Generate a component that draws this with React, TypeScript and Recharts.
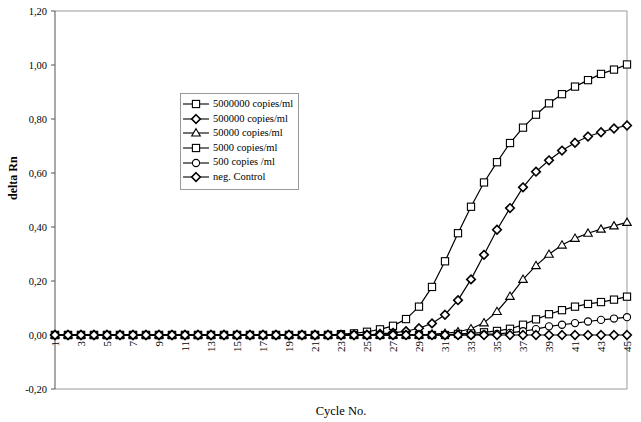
import React from "react";
import { LineChart, Line, XAxis, YAxis, ReferenceLine, Legend } from "recharts";

// Cycle numbers (x categories)
const cycles = [
  1, 2, 3, 4, 5, 6, 7, 8, 9, 10, 11, 12, 13, 14, 15, 16, 17, 18, 19, 20, 21, 22, 23,
  24, 25, 26, 27, 28, 29, 30, 31, 32, 33, 34, 35, 36, 37, 38, 39, 40, 41, 42, 43, 44, 45,
];

// delta Rn values, one per cycle
const s5000000 = [
  0, 0, 0, 0, 0, 0, 0, 0, 0, 0, 0, 0, 0, 0, 0, 0, 0, 0, 0, 0, 0, 0, 0.003, 0.006, 0.012,
  0.021, 0.034, 0.059, 0.105, 0.178, 0.273, 0.377, 0.475, 0.565, 0.64, 0.711, 0.768, 0.816,
  0.858, 0.892, 0.92, 0.944, 0.967, 0.983, 1.002,
];
const s500000 = [
  0, 0, 0, 0, 0, 0, 0, 0, 0, 0, 0, 0, 0, 0, 0, 0, 0, 0, 0, 0, 0, 0, 0, 0, 0, 0.004, 0.008,
  0.014, 0.025, 0.043, 0.075, 0.129, 0.206, 0.297, 0.39, 0.47, 0.547, 0.605, 0.647, 0.683,
  0.712, 0.735, 0.751, 0.765, 0.776,
];
const s50000 = [
  0, 0, 0, 0, 0, 0, 0, 0, 0, 0, 0, 0, 0, 0, 0, 0, 0, 0, 0, 0, 0, 0, 0, 0, 0, 0, 0, 0, 0,
  0.003, 0.006, 0.012, 0.023, 0.045, 0.087, 0.143, 0.206, 0.257, 0.299, 0.333, 0.358,
  0.377, 0.392, 0.404, 0.417,
];
const s5000 = [
  0, 0, 0, 0, 0, 0, 0, 0, 0, 0, 0, 0, 0, 0, 0, 0, 0, 0, 0, 0, 0, 0, 0, 0, 0, 0, 0, 0, 0, 0,
  0, 0.004, 0.006, 0.01, 0.015, 0.023, 0.038, 0.058, 0.077, 0.092, 0.105, 0.115, 0.122,
  0.131, 0.142,
];
const s500 = [
  0, 0, 0, 0, 0, 0, 0, 0, 0, 0, 0, 0, 0, 0, 0, 0, 0, 0, 0, 0, 0, 0, 0, 0, 0, 0, 0, 0, 0, 0,
  0, 0, 0, 0.002, 0.004, 0.008, 0.014, 0.022, 0.032, 0.038, 0.044, 0.05, 0.056, 0.061,
  0.066,
];
const negControl = [
  0, 0, 0, 0, 0, 0, 0, 0, 0, 0, 0, 0, 0, 0, 0, 0, 0, 0, 0, 0, 0, 0, 0, 0, 0, 0, 0, 0, 0, 0,
  0, 0, 0, 0, 0, 0, 0, 0, 0, 0, 0, 0, 0, 0, 0,
];

const yTicks = [-0.2, 0, 0.2, 0.4, 0.6, 0.8, 1.0, 1.2];
const xTicks = [1, 3, 5, 7, 9, 11, 13, 15, 17, 19, 21, 23, 25, 27, 29, 31, 33, 35, 37, 39, 41, 43, 45];

const seriesNames = [
  "5000000 copies/ml",
  "500000 copies/ml",
  "50000 copies/ml",
  "5000 copies/ml",
  "500 copies /ml",
  "neg. Control",
];
const seriesKeys = ["a", "b", "c", "d", "e", "f"];
const seriesShapes = ["square", "diamond", "triangle", "square", "circle", "diamond"];
const seriesValues = [s5000000, s500000, s50000, s5000, s500, negControl];

const data = cycles.map((c, i) => {
  const row: any = { cycle: c };
  seriesKeys.forEach((k, j) => (row[k] = seriesValues[j][i]));
  return row;
});

const W = 641;
const H = 422;
const M = { top: 11, right: 14, bottom: 0, left: 0 };
const Y_W = 55;
const X_H = 33;
const PLOT_H = H - M.top - M.bottom - X_H;
const ZERO_Y = M.top + PLOT_H * (1.2 / 1.4);
const FONT = "'Liberation Serif', 'Times New Roman', serif";

const Marker = ({ shape, cx, cy }: { shape: string; cx: number; cy: number }) => {
  const p = { fill: "#fff", stroke: "#000", strokeWidth: 1.1 };
  if (shape === "square") return <rect x={cx - 3.6} y={cy - 3.6} width={7.2} height={7.2} {...p} />;
  if (shape === "diamond")
    return <polygon points={`${cx},${cy - 4.3} ${cx + 4.3},${cy} ${cx},${cy + 4.3} ${cx - 4.3},${cy}`} {...p} strokeWidth={1.6} />;
  if (shape === "triangle")
    return <polygon points={`${cx},${cy - 4.3} ${cx + 4.3},${cy + 3} ${cx - 4.3},${cy + 3}`} {...p} />;
  return <circle cx={cx} cy={cy} r={3.6} {...p} />;
};

const makeDot = (shape: string) => (props: any) => {
  const { cx, cy, index } = props;
  if (cx == null || cy == null) return <g key={index} />;
  return (
    <g key={index}>
      <Marker shape={shape} cx={cx} cy={cy} />
    </g>
  );
};

// Excel puts the category labels under the zero line, rotated
const XTick = (props: any) => {
  const { x, payload } = props;
  return (
    <text
      x={0}
      y={0}
      transform={`translate(${x + 3.8},${ZERO_Y + 6}) rotate(-90)`}
      textAnchor="end"
      fontSize={11}
      fontFamily={FONT}
      fill="#000"
    >
      {payload.value}
    </text>
  );
};

const LegendBox = () => (
  <div
    style={{
      border: "1px solid #999",
      background: "#fff",
      width: 116,
      padding: "3px 0 4px 1px",
      fontFamily: FONT,
      fontSize: 10.5,
      lineHeight: "14.6px",
      color: "#000",
    }}
  >
    {seriesNames.map((n, i) => (
      <div key={n} style={{ display: "flex", alignItems: "center", whiteSpace: "nowrap" }}>
        <svg width={28} height={14} style={{ marginRight: 3 }}>
          <line x1={1} y1={7} x2={27} y2={7} stroke="#000" strokeWidth={1.1} />
          <Marker shape={seriesShapes[i]} cx={14} cy={7} />
        </svg>
        <span>{n}</span>
      </div>
    ))}
  </div>
);

export default function App() {
  return (
    <div style={{ position: "absolute", left: 0, top: 0, background: "#fff" }}>
      <LineChart width={W} height={H} data={data} margin={M}>
        <XAxis
          dataKey="cycle"
          type="number"
          domain={[1, 45]}
          ticks={xTicks}
          interval={0}
          height={X_H}
          axisLine={false}
          tickLine={false}
          tick={<XTick />}
          label={{ value: "Cycle No.", position: "insideBottom", offset: 7, fontSize: 12.5, fontFamily: FONT, fill: "#000" }}
        />
        <YAxis
          width={Y_W}
          domain={[-0.2, 1.2]}
          ticks={yTicks}
          interval={0}
          tickSize={4}
          tickMargin={4}
          axisLine={{ stroke: "#555" }}
          tickLine={{ stroke: "#555" }}
          tick={{ fontSize: 10.5, fontFamily: FONT, fill: "#000" }}
          tickFormatter={(v: number) => v.toFixed(2).replace(".", ",")}
          label={{ value: "delta Rn", angle: -90, position: "insideLeft", offset: 13, fontSize: 12, fontWeight: "bold", fontFamily: FONT, fill: "#000" }}
        />
        <ReferenceLine y={1.2} stroke="#999" />
        <ReferenceLine y={-0.2} stroke="#999" />
        <ReferenceLine x={45} stroke="#999" />
        <Legend
          layout="vertical"
          verticalAlign="middle"
          align="center"
          wrapperStyle={{ left: 180, top: 93, width: "auto" }}
          content={() => <LegendBox />}
        />
        {seriesKeys.map((k, i) => (
          <Line
            key={k}
            dataKey={k}
            name={seriesNames[i]}
            type="linear"
            stroke="#000"
            strokeWidth={1.2}
            dot={makeDot(seriesShapes[i])}
            activeDot={false}
            isAnimationActive={false}
          />
        ))}
      </LineChart>
    </div>
  );
}
